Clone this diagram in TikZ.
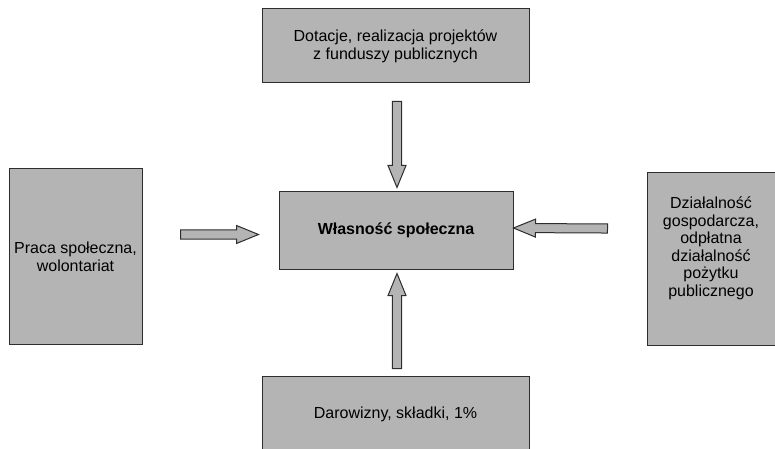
\documentclass[tikz,border=0pt]{standalone}
\usepackage{fontspec}
\setmainfont{Liberation Sans}
\usepackage{tikz}
\usetikzlibrary{calc, positioning}
\definecolor{boxgray}{RGB}{180,180,180}
\definecolor{edgegray}{RGB}{45,45,45}

\begin{document}
\begin{tikzpicture}[x=0.75pt, y=-0.75pt]

\tikzstyle{box} = [draw=edgegray, fill=boxgray, line width=0.75pt, align=center, inner sep=0pt, font=\fontsize{12}{13.2}\selectfont]
\tikzstyle{fatarrow} = [draw=edgegray, fill=boxgray, line width=0.75pt, line join=miter,
  to path={($(\tikztostart)!3.4pt!90:(\tikztotarget)$)
    -- ($(\tikztotarget)!16.5pt!(\tikztostart)!3.4pt!90:(\tikztotarget)$)
    -- ($(\tikztotarget)!16.5pt!(\tikztostart)!6.75pt!90:(\tikztotarget)$)
    -- (\tikztotarget)
    -- ($(\tikztotarget)!16.5pt!(\tikztostart)!6.75pt!-90:(\tikztotarget)$)
    -- ($(\tikztotarget)!16.5pt!(\tikztostart)!3.4pt!-90:(\tikztotarget)$)
    -- ($(\tikztostart)!3.4pt!-90:(\tikztotarget)$) -- cycle}]

\useasboundingbox (0,0) rectangle (775,449);

% Make nodes
\node (hub) [box, minimum width=175.5pt, minimum height=57.75pt, font=\fontsize{12}{13.2}\selectfont\bfseries] at (396,230.5) {Własność społeczna};
\node (grants) [box, minimum width=200.25pt, minimum height=55.5pt] at (395.5,46) {Dotacje, realizacja projektów\\z funduszy publicznych};
\node (volunteer) [box, minimum width=99.75pt, minimum height=131.25pt] at (75.5,256.5) {Praca społeczna,\\wolontariat};
\node (business) [box, anchor=north, text width=96pt, text height=27pt, text depth=102.75pt] at (711,172) {Działalność\\gospodarcza,\\odpłatna\\działalność\\pożytku\\publicznego};
\node (donations) [box, minimum width=200.25pt, minimum height=57pt] at (395.5,414) {Darowizny, składki, 1\%};

% Arrow ends
\coordinate (grantsTail) at ($(grants.south)+(1.5,18)$);
\coordinate (grantsTip) at ($(hub.north)+(1,-4)$);
\coordinate (donationsTail) at ($(donations.north)+(1.5,-7)$);
\coordinate (donationsTip) at ($(hub.south)+(1,4)$);
\coordinate (volunteerTail) at ($(volunteer.east)+(38,-22)$);
\coordinate (volunteerTip) at ($(hub.west)+(-20,4)$);
\coordinate (businessTail) at ($(business.west)+(-39,-30.5)$);
\coordinate (businessTip) at ($(hub.east)+(0,-2.5)$);

% Connect nodes
\draw[fatarrow] (grantsTail) to (grantsTip);
\draw[fatarrow] (donationsTail) to (donationsTip);
\draw[fatarrow] (volunteerTail) to (volunteerTip);
\draw[fatarrow] (businessTail) to (businessTip);

\end{tikzpicture}
\end{document}
